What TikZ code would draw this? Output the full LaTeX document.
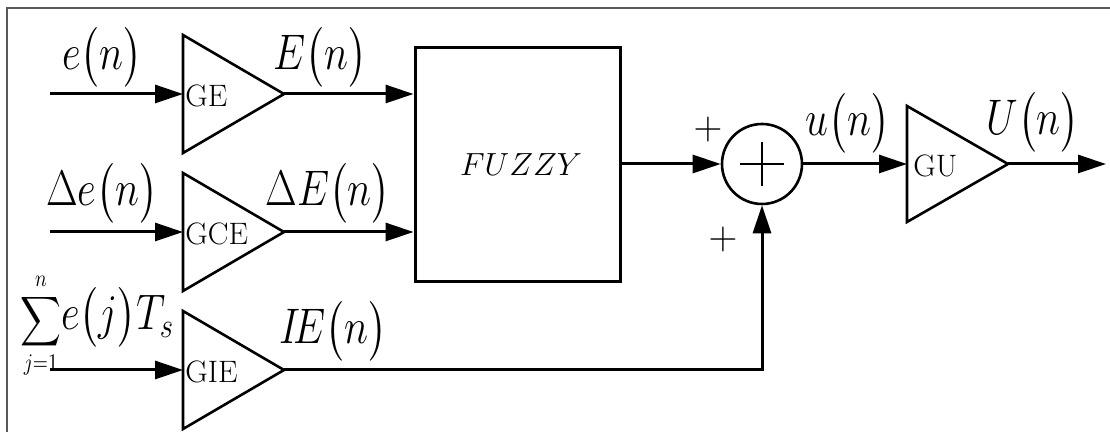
\RequirePackage{fix-cm}
\documentclass[tikz,border=0pt]{standalone}
\usepackage{amsmath}
\usepackage{graphicx}
\usetikzlibrary{arrows.meta,calc}
\newcommand{\sqz}[1]{\scalebox{0.82}[1]{#1}}
\tikzset{
  arr/.style={line width=1.5pt,-{Triangle[length=14pt,width=9pt]}},
  gain/.style={line width=1.3pt,line join=miter},
  gaintext/.style={anchor=west,inner sep=0pt,font=\fontsize{15.5}{17}\selectfont},
  sig/.style={inner sep=0pt,font=\fontsize{25}{29}\selectfont},
  sgn/.style={inner sep=0pt,font=\fontsize{20}{22}\selectfont},
}
\begin{document}
\begin{tikzpicture}[x=0.5pt,y=-0.5pt]
\useasboundingbox (0,0) rectangle (1110,432);
\draw[line width=1pt,black!65] (7,432) -- (7,8) -- (1110,8);

% gains
\draw[gain] (183,35) -- (284,94) -- (183,153) -- cycle;
\draw[gain] (183,173) -- (284,232) -- (183,291) -- cycle;
\draw[gain] (183,311) -- (284,370) -- (183,429) -- cycle;
\draw[gain] (907,106) -- (1008,164) -- (907,222) -- cycle;
\node[gaintext] (ge)  at (185,96) {GE};
\node[gaintext] (gce) at (185,234) {GCE};
\node[gaintext] (gie) at (185,372) {GIE};
\node[gaintext] (gu) at (913,166) {GU};

\coordinate (geIn) at (183,94);   \coordinate (geOut) at (284,94);
\coordinate (gceIn) at (183,232); \coordinate (gceOut) at (284,232);
\coordinate (gieIn) at (183,370); \coordinate (gieOut) at (284,370);
\coordinate (guIn) at (907,164);  \coordinate (guOut) at (1008,164);
\coordinate (eIn) at (50,94);
\coordinate (deIn) at (50,232);
\coordinate (ieIn) at (50,370);
\coordinate (uEnd) at (1106,164);

% fuzzy block
\node[draw,line width=1.5pt,minimum width=102.5pt,minimum height=117pt,inner sep=0pt] (fuzzy) at (517.5,165) {};
\node[inner sep=0pt,font=\fontsize{16}{18}\selectfont] (fz) at (521,165) {$FUZZY$};

% summing junction
\node[draw,circle,line width=1.3pt,minimum size=40pt,inner sep=0pt] (sum) at (762,164) {};
\draw[line width=1.3pt] ($(sum.center)+(-22,0)$) -- ($(sum.center)+(22,0)$);
\draw[line width=1.3pt] ($(sum.center)+(0,-22)$) -- ($(sum.center)+(0,22)$);

% connectors
\draw[arr] (eIn) -- (geIn);
\draw[arr] (deIn) -- (gceIn);
\draw[arr] (ieIn) -- (gieIn);
\draw[arr] (geOut) -- (fuzzy.west |- geOut);
\draw[arr] (gceOut) -- (fuzzy.west |- gceOut);
\draw[arr] (fuzzy.east |- sum) -- (sum.west);
\draw[arr] (gieOut) -| (sum.south);
\draw[arr] (sum.east) -- (guIn);
\draw[arr] (guOut) -- (uEnd);

% labels
\node[sig] (le) at (102,57) {\sqz{$e\big(n\big)$}};
\node[sig] (lE) at (320,57) {\sqz{$E\big(n\big)$}};
\node[sig] (lde) at (102,193) {\sqz{$\Delta e\big(n\big)$}};
\node[sig] (ldE) at (328,193) {\sqz{$\Delta E\big(n\big)$}};
\node[inner sep=0pt,anchor=base west] (lie) at (20,330)
  {\sqz{{\fontsize{17}{19}\selectfont$\displaystyle\sum_{j=1}^{n}$}{\fontsize{25}{29}\selectfont$e\big(j\big)T_s$}}};
\node[sig] (lIE) at (333,331) {\sqz{$I\!E\big(n\big)$}};
\node[sig] (lu) at (848,123) {\sqz{$u\big(n\big)$}};
\node[sig] (lU) at (1033,122) {\sqz{$U\big(n\big)$}};
\node[sgn] (p1) at (708,130) {$+$};
\node[sgn] (p2) at (723,240) {$+$};
\end{tikzpicture}
\end{document}
